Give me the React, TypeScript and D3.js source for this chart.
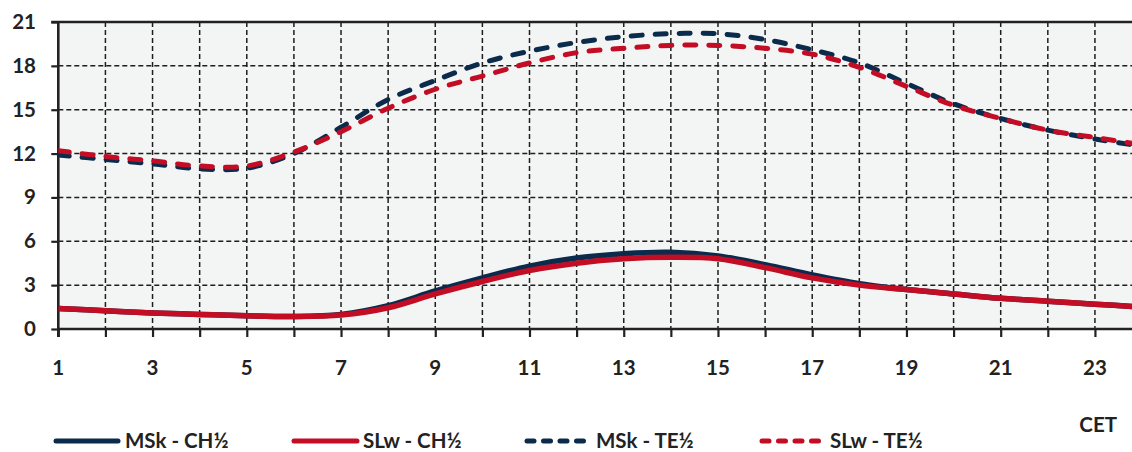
import React, { useEffect, useRef } from "react";
import * as d3 from "d3";

const hours = d3.range(1, 25);
const xTickLabels = [1, 3, 5, 7, 9, 11, 13, 15, 17, 19, 21, 23];
const yTicks = [0, 3, 6, 9, 12, 15, 18, 21];

const mskCH = [1.4, 1.25, 1.1, 1.0, 0.9, 0.85, 1.0, 1.6, 2.6, 3.5, 4.3, 4.85, 5.15, 5.25, 5.0, 4.4, 3.7, 3.1, 2.7, 2.4, 2.1, 1.9, 1.7, 1.5];
const slwCH = [1.4, 1.25, 1.1, 1.0, 0.9, 0.85, 0.95, 1.45, 2.4, 3.25, 4.0, 4.5, 4.8, 4.9, 4.8, 4.2, 3.5, 3.0, 2.7, 2.4, 2.1, 1.9, 1.7, 1.5];
const mskTE = [11.9, 11.6, 11.3, 10.95, 11.0, 12.0, 13.8, 15.7, 17.0, 18.2, 19.0, 19.6, 20.0, 20.2, 20.2, 19.8, 19.1, 18.2, 16.8, 15.4, 14.4, 13.6, 13.0, 12.5];
const slwTE = [12.2, 11.8, 11.5, 11.15, 11.15, 12.1, 13.5, 15.1, 16.4, 17.3, 18.2, 18.9, 19.2, 19.4, 19.4, 19.2, 18.8, 17.9, 16.6, 15.3, 14.4, 13.6, 13.1, 12.6];

const NAVY = "#0b2b4c";
const RED = "#c20d25";

const series = [
  { name: "MSk - CH½", values: mskCH, color: NAVY, dashed: false },
  { name: "SLw - CH½", values: slwCH, color: RED, dashed: false },
  { name: "MSk - TE½", values: mskTE, color: NAVY, dashed: true },
  { name: "SLw - TE½", values: slwTE, color: RED, dashed: true },
];

const FONT = "Lato, 'Open Sans', sans-serif";
const FS = 20.5;

export default function App() {
  const ref = useRef<SVGSVGElement>(null);

  useEffect(() => {
    const svg = d3.select(ref.current);
    svg.selectAll("*").remove();

    const left = 58.3;
    const top = 22;
    const bottom = 329;
    const step = 47.12;

    const x = d3.scaleLinear().domain([1, 24]).range([left, left + 23 * step]);
    const y = d3.scaleLinear().domain([0, 21]).range([bottom, top]);

    svg.append("rect")
      .attr("x", left).attr("y", top)
      .attr("width", 1132 - left).attr("height", bottom - top)
      .attr("fill", "#f3f5f4");

    // grid
    const grid = svg.append("g")
      .attr("stroke", "#1e1e1e").attr("stroke-width", 1.5).attr("stroke-dasharray", "5 3");
    grid.selectAll("line.v").data(hours.filter((h) => h > 1))
      .join("line").attr("class", "v")
      .attr("x1", (d) => x(d)).attr("x2", (d) => x(d))
      .attr("y1", top).attr("y2", bottom);
    grid.selectAll("line.h").data(yTicks.filter((t) => t > 0 && t < 21))
      .join("line").attr("class", "h")
      .attr("x1", left).attr("x2", 1132)
      .attr("y1", (d) => y(d)).attr("y2", (d) => y(d));

    // axes
    const yAxis = svg.append("g").attr("transform", `translate(${left},0)`)
      .call(d3.axisLeft(y).tickValues(yTicks).tickSize(7).tickFormat(() => ""));
    yAxis.select(".domain").remove();
    yAxis.selectAll("line").attr("stroke", "#222").attr("stroke-width", 2.2);

    const xAxis = svg.append("g").attr("transform", `translate(0,${bottom})`)
      .call(d3.axisBottom(x).tickValues(hours).tickSize(8).tickFormat(() => ""));
    xAxis.select(".domain").remove();
    xAxis.selectAll("line").attr("stroke", "#222").attr("stroke-width", 2.2);

    svg.append("line").attr("x1", left).attr("x2", left).attr("y1", top).attr("y2", bottom + 8)
      .attr("stroke", "#222").attr("stroke-width", 2.6);
    svg.append("line").attr("x1", left - 1).attr("x2", 1132).attr("y1", bottom).attr("y2", bottom)
      .attr("stroke", "#222").attr("stroke-width", 2.6);
    svg.append("line").attr("x1", left - 7).attr("x2", 1132).attr("y1", top).attr("y2", top)
      .attr("stroke", "#222").attr("stroke-width", 2.6);

    // tick labels
    svg.append("g").selectAll("text").data(yTicks).join("text")
      .attr("x", 36).attr("y", (d) => y(d) + 7)
      .attr("text-anchor", "end")
      .attr("font-family", FONT).attr("font-weight", 700).attr("font-size", FS)
      .attr("fill", "#222").text((d) => d);
    svg.append("g").selectAll("text").data(xTickLabels).join("text")
      .attr("x", (d) => x(d)).attr("y", 375)
      .attr("text-anchor", "middle")
      .attr("font-family", FONT).attr("font-weight", 700).attr("font-size", FS)
      .attr("fill", "#222").text((d) => d);

    svg.append("text").attr("x", 1117).attr("y", 432).attr("text-anchor", "end")
      .attr("font-family", FONT).attr("font-weight", 700).attr("font-size", FS)
      .attr("fill", "#222").text("CET");

    // lines
    const line = d3.line<number>()
      .x((_, i) => x(hours[i]))
      .y((d) => y(d))
      .curve(d3.curveCatmullRom.alpha(0.5));

    const clip = svg.append("clipPath").attr("id", "plotclip");
    clip.append("rect").attr("x", left).attr("y", top - 10).attr("width", 1132 - left).attr("height", bottom - top + 10);

    const lines = svg.append("g").attr("clip-path", "url(#plotclip)");
    series.forEach((s) => {
      lines.append("path")
        .attr("d", line(s.values))
        .attr("fill", "none")
        .attr("stroke", s.color)
        .attr("stroke-width", s.dashed ? 5 : 5.5)
        .attr("stroke-linecap", s.dashed ? "round" : "butt")
        .attr("stroke-dasharray", s.dashed ? "11 13" : null);
    });

    // legend
    const legendPos = [
      { x1: 56, x2: 118, tx: 125 },
      { x1: 294, x2: 357, tx: 363 },
      { x1: 527, x2: 589, tx: 596 },
      { x1: 762, x2: 824, tx: 830 },
    ];
    const legend = svg.append("g");
    series.forEach((s, i) => {
      const p = legendPos[i];
      legend.append("line")
        .attr("x1", p.x1).attr("x2", p.x2).attr("y1", 441).attr("y2", 441)
        .attr("stroke", s.color).attr("stroke-width", 5)
        .attr("stroke-linecap", "round")
        .attr("stroke-dasharray", s.dashed ? "7 9.5" : null);
      legend.append("text")
        .attr("x", p.tx).attr("y", 448)
        .attr("font-family", FONT).attr("font-weight", 700).attr("font-size", FS)
        .attr("fill", "#222").text(s.name);
    });
  }, []);

  return (
    <svg
      ref={ref}
      width={1132}
      height={452}
      style={{ position: "absolute", left: 0, top: 0, background: "#fff" }}
    />
  );
}
